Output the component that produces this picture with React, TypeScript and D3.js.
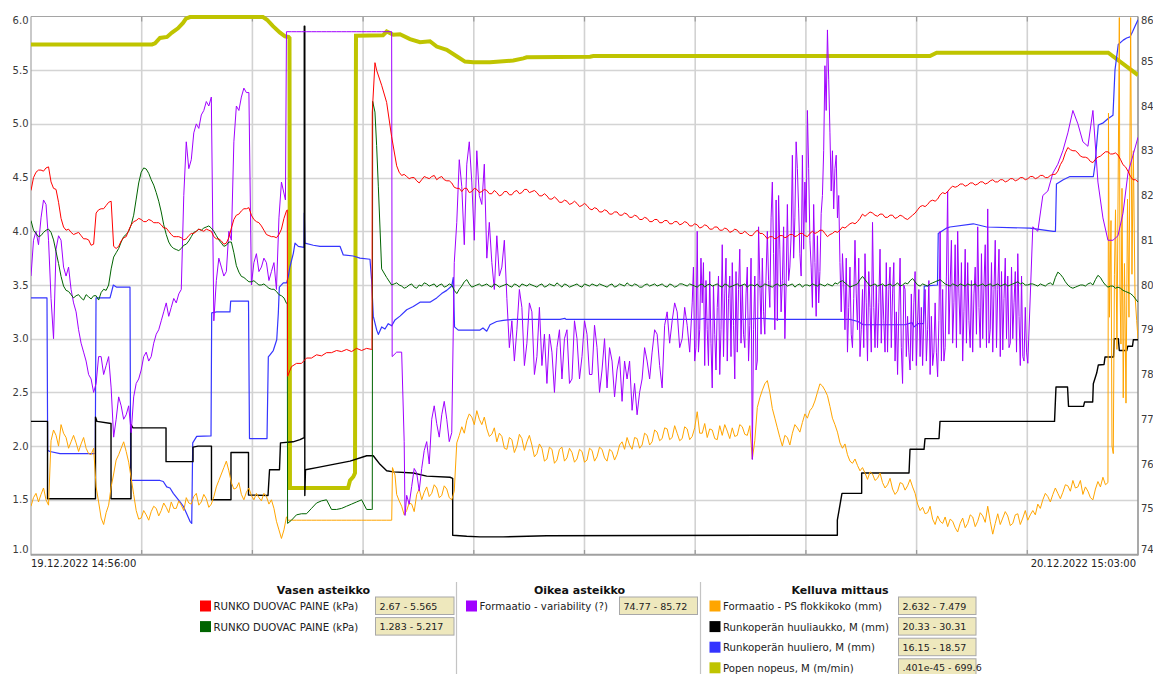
import React from "react";
import * as d3 from "d3";

// ---------- time base (minutes from 19.12.2022 14:56:00) ----------
const SPAN_MINUTES = 1447; // → 20.12.2022 15:03:00
const SAMPLE_COUNT = 222;
const SAMPLE_STEP = SPAN_MINUTES / (SAMPLE_COUNT - 1);
const GRID_DIVISIONS = 10;

const startLabel = "19.12.2022 14:56:00";
const endLabel = "20.12.2022 15:03:00";
const leftTicks = [1.0, 1.5, 2.0, 2.5, 3.0, 3.5, 4.0, 4.5, 5.0, 5.5, 6.0];
const rightTicks = [74, 75, 76, 77, 78, 79, 80, 81, 82, 83, 84, 85, 86];

// ---------- RUNKO DUOVAC PAINE (red, kPa, left axis) ----------
const redValues = [
  4.38, 4.55, 4.57, 4.59, 4.46, 4.39, 4.12, 4.01, 3.99, 3.98,
  3.96, 3.93, 3.87, 4.17, 4.21, 4.24, 4.28, 3.84, 3.91, 3.95,
  4.06, 4.10, 4.11, 4.09, 4.10, 4.08, 4.06, 4.03, 3.97, 3.95,
  3.94, 3.93, 3.98, 4.00, 4.01, 4.02, 4.00, 3.93, 3.91, 3.89,
  4.03, 4.15, 4.19, 4.21, 4.15, 4.09, 4.05, 3.97, 3.95, 3.94,
  4.02, 4.19, 2.74, 2.77, 2.77, 2.82, 2.82, 2.85, 2.84, 2.87,
  2.87, 2.89, 2.88, 2.90, 2.88, 2.91, 2.89, 2.91, 2.90, 5.50,
  5.36, 5.20, 4.88, 4.61, 4.52, 4.51, 4.50, 4.47, 4.48, 4.50,
  4.51, 4.48, 4.51, 4.47, 4.45, 4.40, 4.37, 4.40, 4.37, 4.39,
  4.37, 4.38, 4.35, 4.36, 4.34, 4.37, 4.34, 4.38, 4.36, 4.39,
  4.37, 4.36, 4.33, 4.33, 4.30, 4.30, 4.27, 4.28, 4.26, 4.26,
  4.24, 4.24, 4.20, 4.21, 4.18, 4.19, 4.16, 4.18, 4.15, 4.16,
  4.13, 4.14, 4.11, 4.12, 4.09, 4.11, 4.08, 4.10, 4.07, 4.09,
  4.07, 4.08, 4.05, 4.06, 4.04, 4.05, 4.02, 4.04, 4.01, 4.02,
  4.00, 4.01, 3.98, 3.98, 3.96, 4.01, 3.98, 3.93, 3.95, 3.94,
  3.96, 3.95, 3.97, 3.96, 3.98, 3.95, 4.00, 3.99, 4.01, 3.95,
  3.98, 3.99, 4.04, 4.05, 4.08, 4.09, 4.16, 4.16, 4.17, 4.14,
  4.16, 4.13, 4.15, 4.13, 4.14, 4.11, 4.15, 4.20, 4.24, 4.25,
  4.29, 4.30, 4.36, 4.37, 4.42, 4.42, 4.44, 4.43, 4.45, 4.44,
  4.46, 4.45, 4.48, 4.46, 4.48, 4.47, 4.49, 4.48, 4.50, 4.49,
  4.51, 4.50, 4.52, 4.50, 4.53, 4.56, 4.66, 4.78, 4.75, 4.73,
  4.69, 4.68, 4.64, 4.69, 4.72, 4.74, 4.72, 4.71, 4.62, 4.56,
  4.48, 4.46,
];
// readings taken halfway between samples
const redHalfStartA = 0;
const redHalfA = [
  4.50, 4.57, 4.56, 4.60, 4.40, 4.27, 4.04, 4.02, 3.97, 3.99,
  3.93, 3.92, 3.88, 4.20, 4.21, 4.27, 3.86, 3.86, 3.94, 4.01,
  4.09, 4.12, 4.09, 4.11, 4.08, 4.08, 4.03, 4.00, 3.95, 3.95,
  3.92, 3.96, 3.98, 4.02, 4.00, 4.01, 3.95, 3.93, 3.88, 3.94,
  4.11, 4.16, 4.21, 4.22, 4.11, 4.08, 4.01, 3.96, 3.95, 3.97,
  4.12,
];
const redHalfStartB = 73;
const redHalfB = [
  4.55, 4.53, 4.49, 4.50, 4.45, 4.51, 4.49,
  4.52, 4.50, 4.48, 4.47, 4.41, 4.40, 4.40, 4.36, 4.40, 4.36,
  4.39, 4.35, 4.38, 4.33, 4.37, 4.34, 4.37, 4.35, 4.39, 4.36,
  4.38, 4.33, 4.35, 4.30, 4.32, 4.27, 4.29, 4.25, 4.28, 4.23,
  4.26, 4.21, 4.22, 4.18, 4.20, 4.16, 4.18, 4.15, 4.17, 4.13,
  4.15, 4.11, 4.13, 4.09, 4.11, 4.08, 4.10, 4.07, 4.09, 4.06,
  4.09, 4.05, 4.07, 4.03, 4.06, 4.02, 4.04, 4.01, 4.03, 3.99,
  4.02, 3.98, 4.00, 3.96, 3.99, 3.98, 3.96, 3.95, 3.93, 3.96,
  3.94, 3.97, 3.95, 3.98, 3.96, 3.98, 3.98, 4.01, 3.98, 3.97,
  4.00, 4.01, 4.03, 4.07, 4.07, 4.12, 4.14, 4.18, 4.15, 4.16,
  4.13, 4.15, 4.12, 4.15, 4.12, 4.13, 4.17, 4.23, 4.23, 4.28,
  4.28, 4.34, 4.35, 4.40, 4.41, 4.44, 4.42, 4.45, 4.43, 4.46,
  4.44, 4.47, 4.46, 4.48, 4.46, 4.49, 4.47, 4.50, 4.48, 4.51,
  4.49, 4.52, 4.50, 4.52, 4.53, 4.62, 4.73, 4.76, 4.75, 4.70,
  4.69, 4.65, 4.67, 4.70, 4.74, 4.72, 4.73, 4.67, 4.60, 4.51,
  4.48,
];
const redExtra: [number, number][] = [
  [335.0, 4.2], [335.4, 2.65], [445.7, 2.9], [446.1, 5.11], [449.6, 5.57],
];

// ---------- RUNKO DUOVAC PAINE (green, kPa, left axis) ----------
const greenValues = [
  4.10, 3.98, 3.96, 4.01, 3.99, 3.81, 3.58, 3.45, 3.41, 3.40,
  3.38, 3.41, 3.37, 3.40, 3.43, 3.45, 3.65, 3.80, 3.90, 3.97,
  4.06, 4.30, 4.55, 4.58, 4.48, 4.36, 4.18, 3.97, 3.86, 3.83,
  3.84, 3.88, 3.95, 4.00, 4.01, 4.04, 4.03, 3.96, 3.89, 3.87,
  3.90, 3.68, 3.58, 3.55, 3.53, 3.52, 3.50, 3.49, 3.46, 3.44,
  3.40, 3.33, 1.31, 1.36, 1.37, 1.37, 1.42, 1.47, 1.49, 1.50,
  1.41, 1.41, 1.42, 1.44, 1.46, 1.48, 1.50, 1.41, 1.41, 4.80,
  3.65, 3.57, 3.50, 3.52, 3.49, 3.48, 3.51, 3.47, 3.49, 3.51,
  3.50, 3.48, 3.51, 3.49, 3.50, 3.42, 3.49, 3.55, 3.48, 3.50,
  3.49, 3.51, 3.48, 3.50, 3.49, 3.51, 3.48, 3.50, 3.51, 3.49,
  3.50, 3.48, 3.51, 3.49, 3.50, 3.52, 3.48, 3.50, 3.49, 3.51,
  3.48, 3.50, 3.51, 3.49, 3.50, 3.48, 3.51, 3.49, 3.50, 3.52,
  3.49, 3.50, 3.48, 3.51, 3.50, 3.49, 3.51, 3.48, 3.50, 3.49,
  3.51, 3.49, 3.50, 3.48, 3.51, 3.50, 3.49, 3.51, 3.48, 3.50,
  3.49, 3.51, 3.50, 3.48, 3.50, 3.51, 3.49, 3.50, 3.48, 3.51,
  3.50, 3.49, 3.51, 3.50, 3.48, 3.50, 3.51, 3.49, 3.50, 3.51,
  3.49, 3.51, 3.54, 3.50, 3.49, 3.51, 3.58, 3.52, 3.50, 3.49,
  3.51, 3.50, 3.49, 3.52, 3.50, 3.51, 3.56, 3.50, 3.51, 3.49,
  3.52, 3.54, 3.53, 3.50, 3.51, 3.49, 3.50, 3.51, 3.50, 3.49,
  3.51, 3.50, 3.49, 3.51, 3.50, 3.49, 3.51, 3.53, 3.52, 3.50,
  3.51, 3.49, 3.50, 3.51, 3.50, 3.62, 3.57, 3.50, 3.47, 3.49,
  3.50, 3.51, 3.50, 3.59, 3.53, 3.48, 3.49, 3.48, 3.45, 3.43,
  3.40, 3.34,
];
const greenHalfStartA = 0;
const greenHalfA = [
  4.01, 3.95, 3.99, 4.02, 3.92, 3.70, 3.49, 3.44, 3.38, 3.41,
  3.36, 3.39, 3.40, 3.36, 3.46, 3.50, 3.76, 3.84, 3.95, 4.00,
  4.15, 4.45, 4.59, 4.54, 4.43, 4.28, 4.06, 3.90, 3.84, 3.82,
  3.87, 3.91, 3.99, 4.02, 4.03, 4.05, 4.00, 3.92, 3.86, 3.90,
  3.80, 3.62, 3.57, 3.53, 3.54, 3.50, 3.51, 3.47, 3.46, 3.41,
  3.38,
];
const greenHalfStartB = 72;
const greenHalfB = [
  3.51, 3.50, 3.47, 3.50, 3.48, 3.50, 3.52, 3.49,
  3.51, 3.50, 3.48, 3.51, 3.45, 3.46, 3.53, 3.51, 3.49, 3.51,
  3.50, 3.49, 3.51, 3.48, 3.50, 3.49, 3.51, 3.48, 3.50, 3.51,
  3.49, 3.50, 3.48, 3.51, 3.49, 3.50, 3.51, 3.48, 3.50, 3.49,
  3.51, 3.49, 3.50, 3.51, 3.49, 3.50, 3.48, 3.51, 3.49, 3.50,
  3.51, 3.48, 3.50, 3.49, 3.51, 3.50, 3.49, 3.51, 3.48, 3.51,
  3.50, 3.51, 3.49, 3.50, 3.48, 3.51, 3.50, 3.49, 3.51, 3.48,
  3.50, 3.49, 3.51, 3.50, 3.49, 3.48, 3.51, 3.49, 3.50, 3.49,
  3.51, 3.50, 3.48, 3.51, 3.50, 3.49, 3.50, 3.51, 3.49, 3.50,
  3.52, 3.53, 3.52, 3.48, 3.50, 3.55, 3.55, 3.49, 3.51, 3.50,
  3.49, 3.51, 3.50, 3.49, 3.52, 3.54, 3.53, 3.49, 3.50, 3.51,
  3.53, 3.55, 3.51, 3.49, 3.50, 3.51, 3.49, 3.50, 3.51, 3.50,
  3.49, 3.51, 3.50, 3.49, 3.51, 3.50, 3.52, 3.51, 3.50, 3.51,
  3.50, 3.51, 3.49, 3.52, 3.57, 3.60, 3.53, 3.48, 3.48, 3.50,
  3.49, 3.52, 3.55, 3.57, 3.50, 3.49, 3.47, 3.47, 3.44, 3.42,
  3.37,
];
const greenExtra: [number, number][] = [
  [335.0, 3.33], [335.4, 1.28], [446.1, 1.41], [446.6, 5.21], [449.6, 5.11], [454.0, 4.42],
];

// ---------- Formaatio - variability (purple, right axis 74..86) ----------
const purpleValues = [
  80.2, 81.2, 81.5, 81.8, 79.7, 80.8, 81.0, 80.2, 79.9, 79.4,
  78.7, 78.3, 77.9, 77.8, 78.4, 78.2, 77.7, 77.0, 77.3, 77.1,
  76.7, 77.8, 78.1, 78.5, 78.4, 78.9, 79.2, 79.6, 79.5, 79.6,
  79.9, 83.2, 82.8, 83.6, 83.8, 84.1, 84.2, 80.1, 80.4, 80.3,
  81.0, 84.0, 84.2, 84.3, 80.0, 80.7, 80.4, 80.5, 80.3, 79.9,
  82.3, 85.66, 85.66, 85.66, 85.66, 85.66, 85.66, 85.66, 85.66, 85.66,
  85.66, 85.66, 85.66, 85.66, 85.66, 85.66, 85.66, 85.66, 85.66, 85.66,
  85.66, 85.66, 85.66, 78.5, 78.5, 75.3, 75.5, 75.8, 75.9, 76.5,
  77.0, 76.9, 77.1, 77.0, 76.7, 81.4, 82.2, 82.7, 82.3, 83.0,
  81.8, 80.6, 80.5, 81.1, 80.4, 79.7, 79.2, 79.0, 79.5, 78.7,
  79.4, 78.4, 78.2, 77.8, 78.5, 78.6, 77.9, 79.0, 77.9, 78.8,
  78.4, 78.9, 78.0, 78.6, 78.1, 77.7, 78.3, 78.1, 77.4, 77.9,
  77.2, 77.1, 77.9, 78.3, 78.5, 78.9, 77.7, 79.4, 79.2, 79.4,
  78.8, 79.1, 79.6, 81.2, 79.6, 79.0, 77.7, 79.5, 80.9, 78.3,
  80.5, 78.5, 80.0, 80.4, 76.1, 78.3, 80.6, 81.2, 82.3, 79.2,
  80.1, 81.8, 82.9, 82.6, 82.9, 83.9, 79.5, 81.1, 82.0, 85.7,
  83.0, 81.5, 80.7, 78.5, 78.6, 79.0, 79.9, 78.3, 81.4, 78.6,
  80.0, 78.5, 79.8, 78.0, 77.8, 79.3, 78.3, 79.2, 78.2, 79.0,
  78.2, 77.95, 79.9, 82.1, 78.7, 81.2, 78.3, 80.5, 78.5, 81.3,
  78.8, 81.7, 78.5, 79.9, 78.55, 80.2, 78.8, 80.7, 78.4, 78.25,
  81.3, 81.2, 82.0, 82.1, 82.5, 82.7, 83.0, 83.4, 83.9, 83.6,
  83.2, 83.1, 83.9, 82.3, 81.5, 81.0, 81.0, 81.1, 81.6, 82.5,
  82.9, 83.3,
];
const purpleHalfStartA = 0;
const purpleHalfA = [
  81.0, 80.9, 81.9, 81.0, 78.8, 81.1, 80.4, 80.4, 79.6, 79.0,
  78.5, 78.0, 77.6, 78.4, 78.0, 78.4, 76.6, 77.5, 77.0, 77.3,
  77.5, 77.9, 78.4, 78.3, 78.7, 79.0, 79.4, 79.3, 79.7, 79.8,
  82.0, 82.6, 83.4, 83.5, 83.9, 84.0, 79.2, 80.6, 80.2, 81.2,
  83.2, 83.9, 84.4, 84.3, 80.5, 80.3, 80.6, 80.1, 80.5, 81.5,
];
const purpleHalfStartB = 74;
const purpleHalfB = [
  76.5, 75.1, 75.9, 75.4, 76.3, 76.0, 77.3, 76.6, 77.4, 76.5, 80.5,
  82.8, 80.9, 83.2, 81.0, 82.0, 82.7, 81.4, 79.9, 80.2, 81.0,
  78.6, 78.3, 79.9, 78.2, 79.6, 78.0, 79.5, 78.9, 78.9, 77.6,
  79.0, 78.8, 77.8, 79.2, 77.9, 79.2, 78.0, 79.1, 77.6, 78.8,
  78.6, 77.5, 78.4, 78.3, 78.3, 77.8, 77.6, 78.6, 77.9, 79.0,
  78.2, 79.1, 78.7, 79.6, 78.6, 79.5, 78.5,
];
const purpleHalfStartC = 132;
const purpleHalfC = [
  78.3, 79.0, 78.2, 80.3, 78.9, 78.0, 79.8, 80.2, 77.9, 80.8,
  78.6, 79.1, 80.2, 80.1, 78.9, 79.5, 79.0, 80.8, 78.8, 80.4,
  81.5, 80.7, 82.3, 81.0, 80.5, 80.3, 84.9, 83.4, 82.6, 80.5,
  79.0, 80.4, 81.0, 78.4, 80.7, 79.5, 78.6, 80.8, 78.5, 80.4,
  78.3, 80.6, 79.9, 78.1, 80.3, 78.4, 79.9, 78.0, 79.6, 81.2,
  78.6, 80.0, 80.9, 78.9, 80.8, 78.6, 80.4, 78.6, 80.9, 79.0,
  81.0, 78.4, 80.6, 78.7, 80.3, 78.2, 79.5,
];
// quarter-step readings in the densest stretch (x = i + 0.25 and i + 0.75)
const purpleQuarterStart = 132;
const purpleQuarterEarly = [
  80.4, 78.5, 80.5, 78.2, 80.0, 80.2, 78.4, 79.7, 79.1, 79.9,
  78.9, 78.3, 79.0, 81.3, 79.4, 80.1, 80.7, 82.0, 81.3, 80.1,
  80.6, 81.7, 80.8, 82.6, 81.8, 79.6, 83.0, 84.6, 81.7, 82.0,
  80.0, 79.5, 79.7, 80.6, 78.6, 80.3, 79.5, 79.6, 79.2, 79.9,
  80.5, 79.4, 80.0, 78.5, 79.6, 79.9, 79.3, 80.1, 78.5, 79.2,
  78.3, 78.9, 79.6, 79.8, 79.4, 79.2, 79.8, 79.5, 80.0, 78.7,
  79.9, 80.8, 79.7, 78.6, 79.6, 79.3, 78.3,
];
const purpleQuarterLate = [
  78.6, 80.6, 80.1, 78.7, 78.1, 79.0, 80.6, 78.4, 80.3, 78.7,
  79.8, 80.6, 78.1, 78.9, 80.2, 81.5, 81.9, 79.4, 80.0, 81.1,
  83.2, 80.2, 81.4, 80.4, 79.3, 81.6, 83.9, 82.1, 82.9, 79.4,
  80.6, 78.9, 79.8, 79.0, 79.6, 78.5, 80.0, 78.7, 80.5, 78.6,
  79.4, 78.6, 78.4, 79.8, 78.2, 79.5, 78.3, 79.3, 78.5, 78.3,
  80.2, 81.0, 78.6, 80.5, 78.7, 80.1, 78.9, 80.7, 78.6, 80.5,
  78.6, 80.3, 78.8, 80.4, 78.5, 80.2, 78.5,
];
const purpleExtra: [number, number][] = [[332.6, 81.9], [472.1, 78.4], [488.9, 74.85]];

// ---------- Formaatio - PS flokkikoko (orange, floating scale, drawn in left units) ----------
const orangeValues = [
  1.44, 1.56, 1.55, 1.50, 2.05, 2.10, 2.20, 2.08, 2.04, 2.03,
  2.02, 1.98, 1.92, 1.62, 1.33, 1.38, 1.62, 1.87, 1.98, 1.95,
  1.70, 1.40, 1.33, 1.36, 1.39, 1.42, 1.40, 1.43, 1.48, 1.42,
  1.45, 1.52, 1.46, 1.56, 1.48, 1.51, 1.46, 1.62, 1.74, 1.86,
  1.66, 1.61, 1.55, 1.57, 1.54, 1.56, 1.49, 1.53, 1.50, 1.30,
  1.14, 1.34, 1.31, 1.31, 1.31, 1.31, 1.31, 1.31, 1.31, 1.31,
  1.31, 1.31, 1.31, 1.31, 1.31, 1.31, 1.31, 1.31, 1.31, 1.31,
  1.31, 1.31, 1.31, 1.55, 1.44, 1.40, 1.46, 1.55, 1.50, 1.62,
  1.56, 1.61, 1.54, 1.60, 1.50, 2.03, 2.18, 2.24, 2.27, 2.33,
  2.20, 2.16, 2.11, 2.04, 2.09, 1.97, 2.06, 2.00, 2.07, 2.04,
  2.01, 1.93, 1.98, 1.88, 1.97, 1.87, 1.99, 1.89, 1.94, 1.88,
  1.95, 1.87, 1.96, 1.90, 1.97, 1.86, 1.95, 1.92, 2.04, 2.08,
  1.97, 2.07, 2.01, 2.10, 2.04, 2.13, 2.07, 2.16, 2.08, 2.12,
  2.07, 2.16, 2.09, 2.32, 2.12, 2.08, 2.15, 2.06, 2.10, 2.14,
  2.17, 2.10, 2.18, 2.10, 1.88, 2.36, 2.52, 2.61, 2.35, 2.17,
  2.00, 2.08, 2.12, 2.17, 2.22, 2.26, 2.36, 2.50, 2.56, 2.47,
  2.26, 2.13, 1.98, 1.92, 1.84, 1.82, 1.80, 1.69, 1.74, 1.70,
  1.66, 1.64, 1.60, 1.58, 1.65, 1.63, 1.62, 1.46, 1.43, 1.38,
  1.32, 1.35, 1.28, 1.25, 1.30, 1.20, 1.33, 1.28, 1.34, 1.30,
  1.35, 1.44, 1.18, 1.37, 1.33, 1.35, 1.28, 1.37, 1.33, 1.31,
  1.40, 1.46, 1.50, 1.53, 1.55, 1.56, 1.57, 1.63, 1.68, 1.62,
  1.55, 1.58, 1.50, 1.67, 1.71, 1.66,
];
const orangeHalfStartA = 0;
const orangeHalfA = [
  1.52, 1.48, 1.61, 1.45, 2.15, 2.00, 2.12, 1.98, 2.10, 1.95,
  2.08, 1.93, 1.98, 1.48, 1.27, 1.45, 1.74, 1.92, 2.04, 1.85,
  1.55, 1.32, 1.40, 1.31, 1.44, 1.35, 1.47, 1.38, 1.42, 1.49,
  1.40, 1.47, 1.53, 1.45, 1.55, 1.43, 1.53, 1.68, 1.80, 1.77,
  1.60, 1.66, 1.50, 1.61, 1.50, 1.52, 1.56, 1.46, 1.42, 1.22,
  1.22,
];
const orangeHalfStartB = 73;
const orangeHalfB = [
  1.49, 1.36, 1.47, 1.39, 1.60, 1.57, 1.53,
  1.64, 1.52, 1.63, 1.52, 1.58, 2.10, 2.12, 2.30, 2.20, 2.25,
  2.27, 2.09, 2.17, 2.12, 1.98, 2.08, 1.94, 2.11, 1.96, 2.10,
  1.90, 2.02, 1.86, 1.99, 1.84, 1.97, 1.86, 1.98, 1.85, 1.97,
  1.85, 1.98, 1.86, 1.99, 1.89, 1.97, 1.87, 2.01, 1.97, 2.01,
  2.08, 1.98, 2.12, 2.01, 2.15, 2.05, 2.17, 2.06, 2.19, 2.05,
  2.18, 2.06, 2.17, 2.12, 2.21, 2.16, 2.07, 2.19, 2.20, 2.07,
  2.09, 2.20, 2.11, 2.19, 2.05, 2.45, 2.58, 2.50, 2.26, 2.08,
  2.10, 2.01, 2.20, 2.13, 2.30, 2.33, 2.42, 2.58, 2.52, 2.37,
  2.20, 2.03, 2.02, 1.86, 1.88, 1.77, 1.75, 1.76, 1.68, 1.75,
  1.61, 1.70, 1.55, 1.66, 1.59, 1.69, 1.56, 1.40, 1.37, 1.44,
  1.27, 1.30, 1.34, 1.32, 1.24, 1.28, 1.24, 1.36, 1.25, 1.38,
  1.29, 1.30, 1.28, 1.27, 1.39, 1.26, 1.36, 1.27, 1.40, 1.36,
  1.36, 1.42, 1.56, 1.48, 1.61, 1.51, 1.64, 1.58, 1.61, 1.68,
  1.62, 1.52, 1.60, 1.62, 1.64,
];
const orangeExtra: [number, number][] = [
  [335.0, 1.34], [335.4, 1.31], [471.5, 1.31], [472.5, 1.8], [475.8, 1.73],
  [1408.4, 5.1], [1409.7, 3.2], [1411.7, 4.1], [1413.0, 2.0], [1414.7, 1.93],
  [1416.2, 3.6], [1417.6, 4.2], [1419.5, 2.9], [1422.6, 5.99], [1423.4, 3.5],
  [1424.7, 2.95], [1426.1, 4.4], [1427.7, 2.45], [1429.3, 3.7], [1431.3, 2.4],
  [1433.3, 4.3], [1435.2, 3.2], [1437.4, 5.99], [1439.1, 3.6], [1440.9, 4.75],
  [1443.1, 3.4], [1445.3, 3.17], [1447.0, 3.0],
];

// ---------- Runkoperän huuliaukko (black, floating) [minute, value] ----------
const blackPoints: [number, number][] = [
  [0, 2.23], [21.6, 2.23], [21.6, 1.51], [84.3, 1.51], [84.3, 2.27], [86.3, 2.23],
  [104.6, 2.21], [104.6, 1.51], [130.7, 1.51], [130.7, 2.2], [133.3, 2.17], [176.5, 2.17],
  [176.5, 1.855], [211.8, 1.855], [211.8, 1.99], [218.3, 2.0], [235.9, 2.0], [235.9, 1.5],
  [261.4, 1.5], [261.4, 1.94], [284.3, 1.94], [284.3, 1.545], [309.8, 1.54], [311.8, 1.78],
  [324.8, 1.78], [326.1, 2.03], [342.5, 2.04], [351.6, 2.06], [357.2, 2.08], [357.2, 5.91],
  [357.9, 5.91], [357.9, 1.54], [358.8, 1.78], [373.5, 1.8], [395.2, 1.83], [417.0, 1.86],
  [438.8, 1.91], [447.4, 1.91], [456.2, 1.83], [464.9, 1.77], [473.6, 1.76], [499.7, 1.75],
  [517.2, 1.72], [547.7, 1.71], [551.2, 1.7], [551.2, 1.17], [569.5, 1.16], [586.9, 1.155],
  [617.0, 1.155], [674.1, 1.165], [952.9, 1.17], [1054.0, 1.17], [1054.0, 1.31], [1059.7, 1.545],
  [1060.1, 1.56], [1085.8, 1.56], [1085.8, 1.75], [1147.7, 1.75], [1149.0, 1.97], [1167.3, 1.97],
  [1168.6, 2.07], [1186.9, 2.07], [1188.2, 2.23], [1337.9, 2.23], [1339.8, 2.55], [1354.9, 2.55],
  [1356.2, 2.37], [1375.8, 2.37], [1377.1, 2.41], [1387.8, 2.41], [1388.6, 2.58], [1393.0, 2.68],
  [1395.1, 2.755], [1402.6, 2.76], [1403.9, 2.83], [1415.0, 2.83], [1416.0, 3.0], [1421.3, 3.0],
  [1422.6, 2.89], [1432.3, 2.89], [1433.6, 2.93], [1439.8, 2.93], [1440.9, 2.99], [1447, 2.99],
];

// ---------- Runkoperän huuliero (blue, floating) ----------
const bluePoints: [number, number][] = [
  [0, 3.38], [20.9, 3.38], [21.8, 1.96], [24.8, 1.95], [37.9, 1.93], [84.0, 1.93], [85.0, 3.38],
  [103.3, 3.38], [105.5, 3.44], [107.6, 3.5], [112.0, 3.48], [129.4, 3.48], [130.3, 1.68],
  [168.6, 1.68], [172.9, 1.67], [177.4, 1.62], [181.7, 1.61], [186.0, 1.56], [194.8, 1.48],
  [199.1, 1.44], [203.5, 1.37], [207.8, 1.3], [210.1, 1.28], [211.4, 2.03], [216.6, 2.09],
  [235.3, 2.095], [236.2, 3.24], [242.7, 3.25], [260.1, 3.25], [261.0, 3.35], [284.3, 3.35],
  [285.6, 2.07], [308.5, 2.07], [310.2, 2.83], [312.4, 2.85], [316.7, 2.89], [321.2, 2.99],
  [323.3, 3.24], [324.6, 3.48], [329.8, 3.52], [334.2, 3.52], [336.3, 3.58], [338.5, 3.67],
  [342.9, 3.795], [345.1, 3.89], [349.4, 3.86], [356.8, 3.85], [357.2, 4.17], [358.1, 3.89],
  [369.0, 3.87], [377.8, 3.86], [390.8, 3.86], [403.9, 3.86], [408.2, 3.78], [421.3, 3.77],
  [430.0, 3.75], [443.1, 3.74], [445.3, 3.54], [447.4, 3.21], [451.9, 3.08], [454.0, 3.04],
  [458.4, 3.11], [462.7, 3.09], [467.0, 3.14], [471.5, 3.12], [475.8, 3.175], [482.3, 3.21],
  [491.1, 3.27], [499.7, 3.3], [508.5, 3.34], [521.5, 3.34], [530.3, 3.38], [536.8, 3.42],
  [543.4, 3.45], [549.9, 3.49], [552.0, 3.57], [553.6, 3.11], [558.5, 3.08], [586.9, 3.08],
  [590.8, 3.1], [595.7, 3.07], [600.0, 3.13], [608.7, 3.16], [617.3, 3.17], [630.4, 3.18],
  [691.5, 3.18], [698.0, 3.19], [699.3, 3.18], [796.0, 3.18], [874.5, 3.18], [881.0, 3.19],
  [882.3, 3.18], [933.3, 3.18], [952.9, 3.19], [979.0, 3.18], [1070.5, 3.18], [1081.0, 3.16],
  [1087.9, 3.13], [1142.4, 3.13], [1151.6, 3.15], [1154.2, 3.11], [1159.4, 3.14], [1166.6, 3.14],
  [1167.6, 3.49], [1184.9, 3.5], [1185.9, 3.98], [1196.9, 4.03], [1201.2, 4.04], [1231.7, 4.07],
  [1249.2, 4.04], [1305.8, 4.03], [1336.3, 4.0], [1339.1, 4.0], [1340.4, 4.44], [1349.3, 4.48],
  [1358.1, 4.51], [1388.6, 4.51], [1390.8, 4.62], [1395.1, 4.99], [1401.6, 5.01], [1408.1, 5.05],
  [1414.3, 5.08], [1416.9, 5.5], [1421.2, 5.74], [1427.7, 5.78], [1432.2, 5.8], [1436.5, 5.81],
  [1440.0, 5.86], [1443.1, 5.91], [1447, 5.97],
];

// ---------- Popen nopeus (yellow-green, floating) ----------
const yellowPoints: [number, number][] = [
  [0, 5.74], [158.2, 5.74], [162.1, 5.75], [168.6, 5.8], [177.8, 5.81], [184.3, 5.85],
  [192.1, 5.89], [198.7, 5.94], [202.6, 5.98], [207.8, 5.995], [303.2, 5.995], [308.5, 5.97],
  [316.3, 5.91], [325.5, 5.85], [332.0, 5.815], [336.6, 5.81], [337.9, 5.8], [338.5, 1.61],
  [414.4, 1.61], [417.0, 1.68], [421.3, 1.715], [423.5, 1.75], [424.8, 5.82], [460.1, 5.825],
  [464.9, 5.86], [473.6, 5.83], [482.3, 5.835], [495.4, 5.79], [508.5, 5.76], [521.5, 5.77],
  [530.3, 5.72], [543.4, 5.69], [556.4, 5.63], [567.3, 5.58], [578.1, 5.574], [600.0, 5.574],
  [630.4, 5.59], [643.5, 5.61], [647.9, 5.62], [730.7, 5.626], [735.0, 5.632], [1175.1, 5.632],
  [1183.8, 5.663], [1408.1, 5.663], [1447, 5.455],
];

// ---------- legend ----------
const legendLeft = [
  { name: "RUNKO DUOVAC PAINE (kPa)", color: "#ff0000", range: "2.67 - 5.565" },
  { name: "RUNKO DUOVAC PAINE (kPa)", color: "#006400", range: "1.283 - 5.217" },
];
const legendMiddle = [
  { name: "Formaatio - variability (?)", color: "#a000ff", range: "74.77 - 85.72" },
];
const legendRight = [
  { name: "Formaatio - PS flokkikoko (mm)", color: "#ffa500", range: "2.632 - 7.479" },
  { name: "Runkoperän huuliaukko, M (mm)", color: "#000000", range: "20.33 - 30.31" },
  { name: "Runkoperän huuliero, M (mm)", color: "#3333ff", range: "16.15 - 18.57" },
  { name: "Popen nopeus, M (m/min)", color: "#bfc400", range: ".401e-45 - 699.6" },
];

type Pt = [number, number];
function offsetSteps(start: number, values: number[], frac: number): Pt[] {
  return values.map((v, k) => [(start + k + frac) * SAMPLE_STEP, v] as Pt);
}
function combine(values: number[], ...parts: Pt[][]): Pt[] {
  const pts: Pt[] = values.map((v, i) => [i * SAMPLE_STEP, v] as Pt);
  return pts.concat(...parts).sort((a, b) => a[0] - b[0]);
}

const FONT = "'DejaVu Sans', Verdana, sans-serif";

export default function App() {
  const W = 1153, H = 674;
  const plot = { left: 31, right: 1138, top: 16.5, bottom: 553.5 };
  const x = d3.scaleLinear().domain([0, SPAN_MINUTES]).range([plot.left, plot.right]);
  const yL = d3.scaleLinear().domain([1, 6]).range([plot.bottom, plot.top]);
  const yR = d3.scaleLinear().domain([74, 86]).range([plot.bottom, plot.top]);

  const lineL = d3.line<Pt>().x((d) => x(d[0])).y((d) => yL(d[1]));
  const lineR = d3.line<Pt>().x((d) => x(d[0])).y((d) => yR(d[1]));

  const red = combine(redValues, redExtra,
    offsetSteps(redHalfStartA, redHalfA, 0.5), offsetSteps(redHalfStartB, redHalfB, 0.5));
  const green = combine(greenValues, greenExtra,
    offsetSteps(greenHalfStartA, greenHalfA, 0.5), offsetSteps(greenHalfStartB, greenHalfB, 0.5));
  const purple = combine(purpleValues, purpleExtra,
    offsetSteps(purpleHalfStartA, purpleHalfA, 0.5),
    offsetSteps(purpleHalfStartB, purpleHalfB, 0.5),
    offsetSteps(purpleHalfStartC, purpleHalfC, 0.5),
    offsetSteps(purpleQuarterStart, purpleQuarterEarly, 0.25),
    offsetSteps(purpleQuarterStart, purpleQuarterLate, 0.75));
  const orange = combine(orangeValues, orangeExtra,
    offsetSteps(orangeHalfStartA, orangeHalfA, 0.5), offsetSteps(orangeHalfStartB, orangeHalfB, 0.5));

  const gridTimes = d3.range(1, GRID_DIVISIONS).map((k) => (k * SPAN_MINUTES) / GRID_DIVISIONS);
  const clampY = (y: number) => Math.max(20, Math.min(549, y));

  const renderLegendBlock = (
    items: { name: string; color: string; range: string }[],
    title: string, titleX: number, swatchX: number, textX: number, boxX: number, boxW: number
  ) => (
    <g>
      <text x={titleX} y={594} textAnchor="middle" fontFamily={FONT} fontWeight="bold" fontSize={11} fill="#111">{title}</text>
      {items.map((it, i) => {
        const cy = 606 + i * 20.6;
        return (
          <g key={i}>
            <rect x={swatchX} y={cy - 5.5} width={11} height={11} fill={it.color} />
            <text x={textX} y={cy + 4} fontFamily={FONT} fontSize={10.2} fill="#222">{it.name}</text>
            <rect x={boxX} y={cy - 9} width={boxW} height={17.5} fill="#eee8bd" stroke="#a8a8a8" strokeWidth={1} />
            <text x={boxX + 4} y={cy + 3.5} fontFamily={FONT} fontSize={9.5} fill="#222">{it.range}</text>
          </g>
        );
      })}
    </g>
  );

  return (
    <div style={{ position: "fixed", left: 0, top: 0, width: W, height: H, background: "#fff" }}>
      <svg width={W} height={H} viewBox={`0 0 ${W} ${H}`} style={{ display: "block" }}>
        <defs>
          <clipPath id="plotClip">
            <rect x={plot.left} y={plot.top - 2} width={plot.right - plot.left} height={plot.bottom - plot.top + 4} />
          </clipPath>
        </defs>
        <rect x={0} y={0} width={W} height={H} fill="#fff" />

        {leftTicks.slice(1, -1).map((t) => (
          <line key={t} x1={plot.left} x2={plot.right} y1={Math.round(yL(t)) + 0.5} y2={Math.round(yL(t)) + 0.5}
            stroke="#d4d4d4" strokeWidth={1.5} />
        ))}
        {gridTimes.map((t) => (
          <g key={t}>
            <line x1={x(t)} x2={x(t)} y1={plot.top} y2={555} stroke="#d2d2d2" strokeWidth={1.6} />
            <line x1={x(t)} x2={x(t)} y1={plot.top} y2={plot.top + 5} stroke="#9a9a9a" strokeWidth={1.2} />
            <line x1={x(t)} x2={x(t)} y1={550} y2={555} stroke="#9a9a9a" strokeWidth={1.2} />
          </g>
        ))}

        <line x1={plot.left} x2={plot.right} y1={plot.top} y2={plot.top} stroke="#a5a5a5" strokeWidth={1.2} />
        <line x1={plot.left} x2={plot.left} y1={plot.top} y2={555.5} stroke="#a5a5a5" strokeWidth={1.2} />
        <line x1={plot.right} x2={plot.right} y1={plot.top} y2={555.5} stroke="#8c8c8c" strokeWidth={1.5} />
        <line x1={plot.left} x2={plot.right} y1={554.8} y2={554.8} stroke="#a0a0a0" strokeWidth={2} />

        <g clipPath="url(#plotClip)" fill="none" strokeLinejoin="round">
          <path d={lineL(yellowPoints) ?? ""} stroke="#bfc400" strokeWidth={4} strokeLinejoin="miter" />
          <path d={lineL(bluePoints) ?? ""} stroke="#3535ff" strokeWidth={1.2} />
          <path d={lineL(blackPoints) ?? ""} stroke="#000" strokeWidth={1.4} />
          <path d={lineL(orange) ?? ""} stroke="#ffa500" strokeWidth={1} />
          <path d={lineR(purple) ?? ""} stroke="#a000ff" strokeWidth={1} />
          <path d={lineL(green) ?? ""} stroke="#006400" strokeWidth={1} />
          <path d={lineL(red) ?? ""} stroke="#ff0000" strokeWidth={1} />
        </g>

        {leftTicks.map((t) => (
          <text key={t} x={28.5} y={clampY(yL(t))} dy="0.35em" textAnchor="end" fontFamily={FONT} fontSize={10} fill="#3a3a3a">
            {t.toFixed(1)}
          </text>
        ))}
        {rightTicks.map((t) => (
          <text key={t} x={1141} y={clampY(yR(t))} dy="0.35em" textAnchor="start" fontFamily={FONT} fontSize={10} fill="#3a3a3a">
            {t}
          </text>
        ))}
        <text x={plot.left} y={566.5} fontFamily={FONT} fontSize={10} fill="#222">{startLabel}</text>
        <text x={1136} y={566.5} textAnchor="end" fontFamily={FONT} fontSize={10} fill="#222">{endLabel}</text>

        <line x1={456.5} x2={456.5} y1={582} y2={674} stroke="#c4c4c4" strokeWidth={1.2} />
        <line x1={700.5} x2={700.5} y1={582} y2={674} stroke="#c4c4c4" strokeWidth={1.2} />

        {renderLegendBlock(legendLeft, "Vasen asteikko", 323.5, 200, 213.5, 375.5, 78.5)}
        {renderLegendBlock(legendMiddle, "Oikea asteikko", 579.5, 466, 479.5, 619.5, 78)}
        {renderLegendBlock(legendRight, "Kelluva mittaus", 840, 709.5, 723, 898.5, 77.5)}
      </svg>
    </div>
  );
}
